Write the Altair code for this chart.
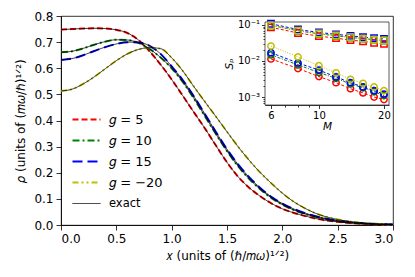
import altair as alt
import pandas as pd

# ---------------- main panel data ----------------
x_vals = [0.0, 0.1, 0.2, 0.3, 0.4, 0.5, 0.6, 0.7, 0.8, 0.9, 1.0,
          1.1, 1.2, 1.3, 1.4, 1.5, 1.6, 1.7, 1.8, 1.9, 2.0,
          2.1, 2.2, 2.3, 2.4, 2.5, 2.6, 2.7, 2.8, 2.9, 3.0]
rho_g5 = [0.748, 0.750, 0.752, 0.753, 0.752, 0.747, 0.735, 0.708, 0.665, 0.614, 0.557,
          0.495, 0.432, 0.370, 0.304, 0.240, 0.185, 0.143, 0.110, 0.083, 0.062,
          0.047, 0.035, 0.025, 0.017, 0.012, 0.008, 0.005, 0.003, 0.002, 0.001]
rho_g10 = [0.661, 0.665, 0.676, 0.690, 0.702, 0.709, 0.708, 0.697, 0.674, 0.641, 0.600,
           0.548, 0.485, 0.417, 0.348, 0.283, 0.225, 0.177, 0.137, 0.104, 0.078,
           0.058, 0.043, 0.031, 0.022, 0.015, 0.010, 0.007, 0.004, 0.003, 0.002]
rho_g15 = [0.632, 0.637, 0.650, 0.666, 0.681, 0.693, 0.700, 0.699, 0.686, 0.655, 0.607,
           0.555, 0.493, 0.425, 0.356, 0.290, 0.232, 0.183, 0.142, 0.108, 0.082,
           0.062, 0.046, 0.034, 0.024, 0.017, 0.012, 0.008, 0.005, 0.003, 0.002]
rho_gm20 = [0.513, 0.520, 0.540, 0.567, 0.598, 0.629, 0.655, 0.672, 0.679, 0.675, 0.640,
            0.590, 0.530, 0.472, 0.415, 0.357, 0.300, 0.248, 0.201, 0.160, 0.122,
            0.090, 0.065, 0.045, 0.031, 0.021, 0.014, 0.009, 0.006, 0.003, 0.002]

series_labels = ["\U0001D454 = 5", "\U0001D454 = 10", "\U0001D454 = 15", "\U0001D454 = \u221220"]
series_colors = ["#ff0000", "#008000", "#0000ff", "#bfbf00"]
series_dashes = [[6, 3], [7, 3, 2, 3], [10, 5], [6, 3, 2, 3, 2, 3]]
exact_label = "exact"

# ---------------- inset data ----------------
M_vals = [6, 8, 10, 12, 14, 16, 18, 20]
sq_g5 = [0.086, 0.060, 0.049, 0.043, 0.038, 0.035, 0.032, 0.030]
sq_g10 = [0.098, 0.069, 0.057, 0.050, 0.045, 0.042, 0.039, 0.037]
sq_g15 = [0.108, 0.075, 0.062, 0.055, 0.050, 0.046, 0.043, 0.041]
sq_gm20 = [0.098, 0.070, 0.058, 0.051, 0.046, 0.042, 0.039, 0.037]
ci_g5 = [0.0114, 0.0062, 0.0037, 0.0025, 0.0017, 0.0013, 0.0010, 0.00085]
ci_g10 = [0.0148, 0.0078, 0.0048, 0.0033, 0.0023, 0.0018, 0.0014, 0.0011]
ci_g15 = [0.0170, 0.0088, 0.0056, 0.0036, 0.0025, 0.0019, 0.0015, 0.0012]
ci_gm20 = [0.026, 0.013, 0.0074, 0.0047, 0.0031, 0.0024, 0.0019, 0.0015]
inset_dashes = [[3, 2], [3, 1.5, 1, 1.5], [3, 2], [1, 1.5]]

M_ticks = [6, 7, 8, 9, 10, 20]
Sp_ticks = [0.0007, 0.0008, 0.0009, 0.001, 0.002, 0.003, 0.004, 0.005, 0.006, 0.007,
            0.008, 0.009, 0.01, 0.02, 0.03, 0.04, 0.05, 0.06, 0.07, 0.08, 0.09, 0.1]
M_domain = [5.63, 21.1]
Sp_domain = [0.0006, 0.121]

# ---------------- build tables ----------------
main_rows, exact_rows = [], []
for lab, ys in zip(series_labels, [rho_g5, rho_g10, rho_g15, rho_gm20]):
    for xv, yv in zip(x_vals, ys):
        main_rows.append({"x": xv, "rho": yv, "series": lab, "curve": lab})
        exact_rows.append({"x": xv, "rho": yv, "series": exact_label, "curve": lab})
main_df = pd.DataFrame(main_rows)
exact_df = pd.DataFrame(exact_rows)

inset_rows = []
for grp, sets in [("sq", [sq_g5, sq_g10, sq_g15, sq_gm20]), ("ci", [ci_g5, ci_g10, ci_g15, ci_gm20])]:
    for i, (lab, ys) in enumerate(zip(series_labels, sets)):
        for m, s in zip(M_vals, ys):
            inset_rows.append({"M": m, "S": s, "series": lab, "grp": grp,
                               "key": grp + str(i), "dash": inset_dashes[i], "ord": i})
inset_df = pd.DataFrame(inset_rows)
frame_df = pd.DataFrame([{"x0": M_domain[0], "x1": M_domain[1], "y0": Sp_domain[0], "y1": Sp_domain[1]}])

legend_domain = series_labels + [exact_label]
legend_colors = series_colors + ["black"]
legend_dashes = series_dashes + [[1, 0]]

leg = alt.Legend(title=None, orient="none", legendX=19, legendY=97,
                 symbolType="stroke", symbolSize=784,
                 labelFontSize=alt.ExprRef("datum.value === 'exact' ? 11.5 : 13"),
                 labelFont="DejaVu Sans", labelFontWeight="normal", labelColor="black",
                 labelOffset=16, rowPadding=7, padding=0,
                 symbolStrokeWidth=alt.ExprRef("datum.value === 'exact' ? 0.9 : 2"))

x_main = alt.X("x:Q", scale=alt.Scale(domain=[0, 3], nice=False, zero=False),
               axis=alt.Axis(values=[0, 0.5, 1.0, 1.5, 2.0, 2.5, 3.0], format=".1f",
                             title="\U0001D465 (units of (\u210F/\U0001D45A\U0001D714)\u00B9\u141F\u00B2)"))
y_main = alt.Y("rho:Q", scale=alt.Scale(domain=[0, 0.8], nice=False),
               axis=alt.Axis(values=[0, 0.1, 0.2, 0.3, 0.4, 0.5, 0.6, 0.7, 0.8], format=".1f",
                             title="\U0001D70C (units of (\U0001D45A\U0001D714/\u210F)\u00B9\u141F\u00B2)"))
col_enc = alt.Color("series:N", scale=alt.Scale(domain=legend_domain, range=legend_colors), legend=leg)
dash_enc = alt.StrokeDash("series:N", scale=alt.Scale(domain=legend_domain, range=legend_dashes), legend=leg)

colored = alt.Chart(main_df).mark_line(interpolate="monotone", strokeWidth=2).encode(
    x=x_main, y=y_main, color=col_enc, strokeDash=dash_enc, detail="curve:N")
exact = alt.Chart(exact_df).mark_line(interpolate="monotone", strokeWidth=0.8).encode(
    x=x_main, y=y_main, color=col_enc, strokeDash=dash_enc, detail="curve:N")
main = alt.layer(colored, exact)

minor_m = "datum.value==7||datum.value==8||datum.value==9"
major_s = "abs(log(datum.value)/LN10 - round(log(datum.value)/LN10)) < 1e-6"
x_in_axis = alt.Axis(orient="bottom", offset=-120, values=M_ticks, title="M",
                     titleFontStyle="italic", titleFontSize=10.5, titlePadding=1,
                     labelFontSize=10, labelPadding=2,
                     tickSize={"condition": {"test": minor_m, "value": 2}, "value": 3.5},
                     labelExpr="(" + minor_m + ") ? '' : datum.label")
y_in_axis = alt.Axis(orient="left", offset=-204, values=Sp_ticks, title="S\u209A",
                     titleFontStyle="italic", titleFontSize=10.5, titlePadding=3,
                     labelFontSize=10, labelPadding=2,
                     tickSize={"condition": {"test": major_s, "value": 3.5}, "value": 2},
                     labelExpr="(" + major_s + ") ? ('10' + (round(log(datum.value)/LN10)==-1 ? '\u207B\u00B9' : (round(log(datum.value)/LN10)==-2 ? '\u207B\u00B2' : '\u207B\u00B3'))) : ''")
x_in_scale = alt.Scale(type="log", domain=M_domain, range=[204, 328], nice=False)
y_in_scale = alt.Scale(type="log", domain=Sp_domain, range=[89, 6], nice=False)

frame = alt.Chart(frame_df).mark_rect(fill="white", stroke="#333333", strokeWidth=0.8).encode(
    x=alt.X("x0:Q", scale=x_in_scale, axis=x_in_axis), x2="x1:Q",
    y=alt.Y("y0:Q", scale=y_in_scale, axis=y_in_axis), y2="y1:Q")
in_color = alt.Color("series:N", scale=alt.Scale(domain=series_labels, range=series_colors), legend=None)
in_lines = alt.Chart(inset_df).mark_line(strokeWidth=1).encode(
    x=alt.X("M:Q", scale=x_in_scale, axis=x_in_axis),
    y=alt.Y("S:Q", scale=y_in_scale, axis=y_in_axis),
    color=in_color, detail="key:N",
    strokeDash=alt.StrokeDash("dash", scale=None))
in_pts = alt.Chart(inset_df).mark_point(filled=False, strokeWidth=1.5, size=40, opacity=1).encode(
    x=alt.X("M:Q", scale=x_in_scale, axis=x_in_axis),
    y=alt.Y("S:Q", scale=y_in_scale, axis=y_in_axis),
    color=in_color,
    shape=alt.Shape("grp:N", scale=alt.Scale(domain=["sq", "ci"], range=["square", "circle"]), legend=None),
    order=alt.Order("ord:Q"))
inset = alt.layer(frame, in_lines, in_pts)

chart = alt.layer(main, inset).resolve_scale(
    x="independent", y="independent", color="independent", strokeDash="independent",
    shape="independent"
).resolve_legend(color="independent", strokeDash="independent").resolve_axis(
    x="independent", y="independent").properties(
    width=332, height=209,
    autosize=alt.AutoSizeParams(type="none"),
    padding={"left": 53, "top": 8, "right": 10, "bottom": 40},
).configure_view(stroke="black", strokeWidth=0.8).configure_axis(
    grid=False, domainColor="black", domainWidth=0.8, tickColor="black", tickWidth=0.8,
    labelColor="black", titleColor="black", labelFont="DejaVu Sans", titleFont="DejaVu Sans",
    titleFontWeight="normal", labelFontSize=12, titleFontSize=12, tickSize=5, labelPadding=3,
    titlePadding=6,
)

chart.save("out.html", embed_options={"renderer": "svg", "actions": False})
